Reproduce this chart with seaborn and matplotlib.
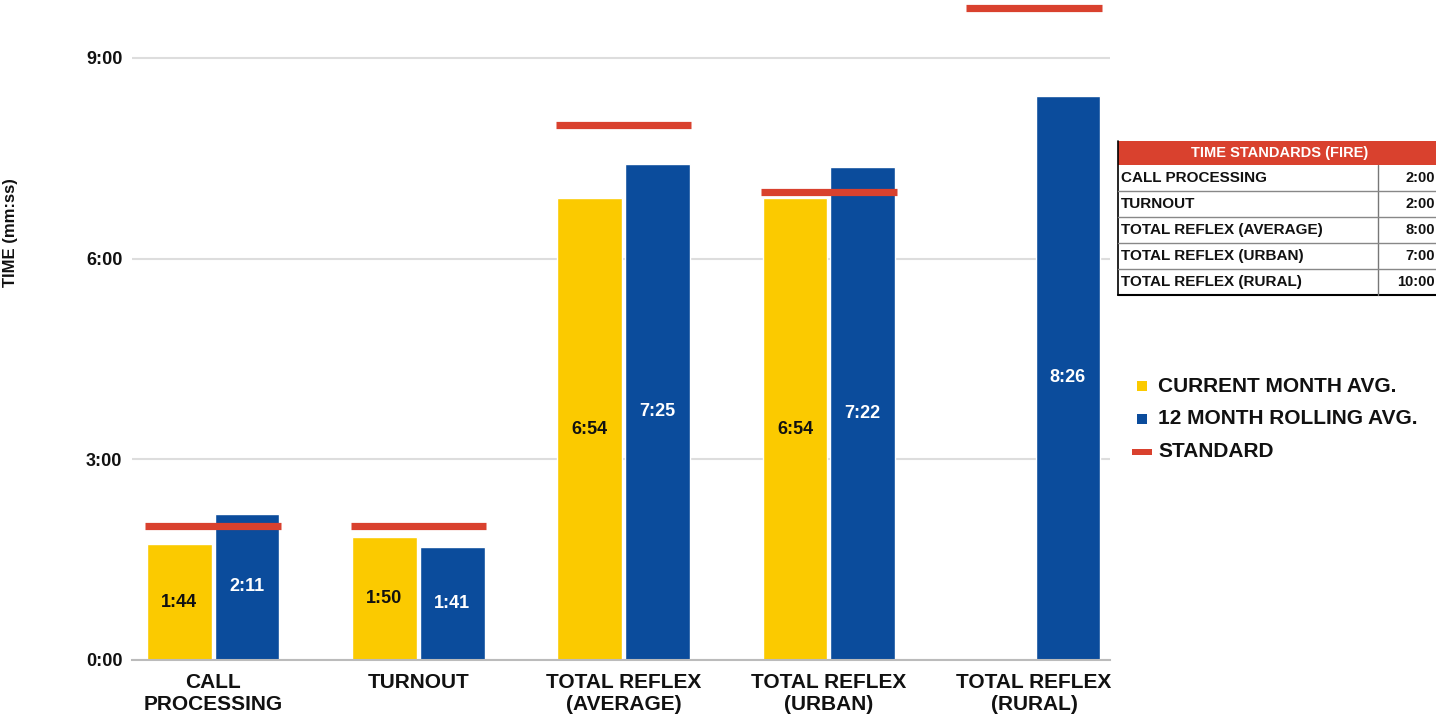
import matplotlib
matplotlib.use("Agg")
import matplotlib.pyplot as plt
import matplotlib.patches as mpatches
import seaborn as sns
import pandas as pd
import numpy as np

# ---- data ----
categories = ["CALL\nPROCESSING", "TURNOUT", "TOTAL REFLEX\n(AVERAGE)",
              "TOTAL REFLEX\n(URBAN)", "TOTAL REFLEX\n(RURAL)"]
current_month = ["1:44", "1:50", "6:54", "6:54", None]
rolling_12 = ["2:11", "1:41", "7:25", "7:22", "8:26"]
standards = ["2:00", "2:00", "8:00", "7:00", "10:00"]
table_labels = ["CALL PROCESSING", "TURNOUT", "TOTAL REFLEX (AVERAGE)",
                "TOTAL REFLEX (URBAN)", "TOTAL REFLEX (RURAL)"]
series_names = ["CURRENT MONTH AVG.", "12 MONTH ROLLING AVG."]
y_ticks = ["0:00", "3:00", "6:00", "9:00"]


def to_min(s):
    if s is None:
        return np.nan
    m, sec = s.split(":")
    return int(m) + int(sec) / 60.0


rows = []
for c, a, b in zip(categories, current_month, rolling_12):
    rows.append({"cat": c, "series": series_names[0], "val": to_min(a), "lab": a})
    rows.append({"cat": c, "series": series_names[1], "val": to_min(b), "lab": b})
df = pd.DataFrame(rows)

YELLOW = "#FBCA00"
BLUE = "#0B4C9C"
RED = "#D9412E"

sns.set_theme(style="white")
plt.rcParams["font.family"] = ["Liberation Sans", "DejaVu Sans"]
plt.rcParams["font.weight"] = "bold"

fig = plt.figure(figsize=(14.36, 7.19), dpi=100)
ax = fig.add_axes([132 / 1436, 59 / 719, 978 / 1436, 660 / 719])

sns.barplot(data=df, x="cat", y="val", hue="series", order=categories,
            hue_order=series_names, palette=[YELLOW, BLUE], width=0.66,
            gap=0.045, dodge=True, legend=False, ax=ax, saturation=1,
            errorbar=None)

ymax = 9.865
ax.set_ylim(0, ymax)
ax.set_xlim(-0.395, 4.37)

# bar labels
for cont, ser in zip(ax.containers, series_names):
    sub = df[df.series == ser].set_index("cat").loc[categories]
    for rect, lab in zip(cont, sub["lab"]):
        if lab is None or not np.isfinite(rect.get_height()) or rect.get_height() == 0:
            continue
        ax.text(rect.get_x() + rect.get_width() / 2, rect.get_height() / 2, lab,
                ha="center", va="center", fontsize=13, fontweight="bold",
                color="#111111" if ser == series_names[0] else "white")

# standard lines
for i, s in enumerate(standards):
    v = min(to_min(s), ymax - 0.12)
    ax.hlines(v, i - 0.33, i + 0.33, color=RED, lw=5.2, zorder=5,
              clip_on=False)

# axes styling
ax.set_yticks([to_min(t) for t in y_ticks])
ax.set_yticklabels(y_ticks, fontsize=13, fontweight="bold", color="#111111")
ax.tick_params(axis="y", length=0, pad=7)
ax.tick_params(axis="x", length=0, pad=9)
for lab in ax.get_xticklabels():
    lab.set_fontsize(15)
    lab.set_fontweight("bold")
    lab.set_color("#111111")
    lab.set_linespacing(1.2)
ax.set_xlabel("")
ax.set_ylabel("TIME (mm:ss)", fontsize=12, fontweight="bold", color="#111111")
ax.yaxis.set_label_coords(-0.117, 0.647)
ax.grid(axis="y", color="#DDDDDD", lw=1.5)
ax.set_axisbelow(True)
for sp in ["top", "right", "left"]:
    ax.spines[sp].set_visible(False)
ax.spines["bottom"].set_color("#BBBBBB")
ax.spines["bottom"].set_linewidth(1.5)
ax.patch.set_alpha(0)

# ---- standards table (figure pixel coords) ----
W, H = 1436, 719


def fx(x):
    return x / W


def fy(y):
    return 1 - y / H


tl, tr, colx = 1118, 1436, 1378
hdr_top, hdr_bot = 141, 165
row_h = 26
fig.patches.append(mpatches.Rectangle((fx(tl), fy(hdr_bot)), fx(tr - tl),
                                      (hdr_bot - hdr_top) / H, transform=fig.transFigure,
                                      facecolor=RED, edgecolor="none"))
fig.text(fx(1280), fy((hdr_top + hdr_bot) / 2), "TIME STANDARDS (FIRE)",
         ha="center", va="center", fontsize=10.5, fontweight="bold", color="white")
tbot = hdr_bot + row_h * len(table_labels)
fig.add_artist(plt.Line2D([fx(tl), fx(tl)], [fy(hdr_top), fy(tbot)], color="black", lw=1.2,
                          transform=fig.transFigure))
fig.add_artist(plt.Line2D([fx(tl), fx(tr)], [fy(tbot), fy(tbot)], color="black", lw=1.5,
                          transform=fig.transFigure))
fig.add_artist(plt.Line2D([fx(colx), fx(colx)], [fy(hdr_bot), fy(tbot)], color="#777777", lw=1,
                          transform=fig.transFigure))
for i, (lab, val) in enumerate(zip(table_labels, standards)):
    top = hdr_bot + i * row_h
    if i > 0:
        fig.add_artist(plt.Line2D([fx(tl), fx(tr)], [fy(top), fy(top)], color="#888888", lw=1,
                                  transform=fig.transFigure))
    fig.text(fx(tl + 3), fy(top + row_h / 2), lab, ha="left", va="center",
             fontsize=11, fontweight="bold", color="#111111")
    fig.text(fx(1435), fy(top + row_h / 2), val, ha="right", va="center",
             fontsize=10.5, fontweight="bold", color="#111111")

# ---- legend ----
leg_items = [(series_names[0], YELLOW, "sq"), (series_names[1], BLUE, "sq"),
             ("STANDARD", RED, "dash")]
for i, (name, col, kind) in enumerate(leg_items):
    yc = 386 + i * 33
    if kind == "sq":
        fig.patches.append(mpatches.Rectangle((fx(1137), fy(yc + 5)), fx(10), 10 / H,
                                              transform=fig.transFigure, facecolor=col,
                                              edgecolor="none"))
    else:
        fig.patches.append(mpatches.Rectangle((fx(1132), fy(yc + 3)), fx(20), 6 / H,
                                              transform=fig.transFigure, facecolor=col,
                                              edgecolor="none"))
    fig.text(fx(1158), fy(yc), name, ha="left", va="center", fontsize=15,
             fontweight="bold", color="#111111")

fig.savefig("out.png", dpi=100, facecolor="white")
